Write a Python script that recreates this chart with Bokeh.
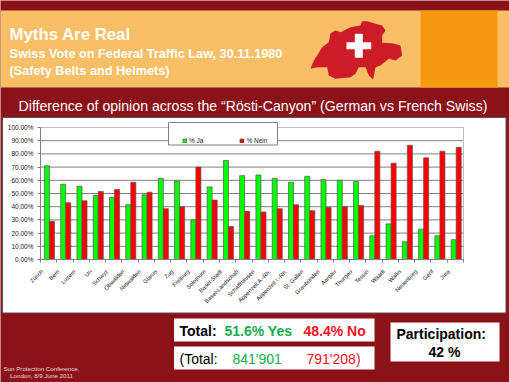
import numpy as np
from bokeh.core.properties import value
from bokeh.embed import file_html
from bokeh.resources import INLINE
from bokeh.plotting import figure
from bokeh.models import FixedTicker, Range1d, Legend, LegendItem

cantons = ["Zürich", "Bern", "Luzern", "Uri", "Schwyz", "Obwalden", "Nidwalden", "Glarus", "Zug",
           "Freiburg", "Solothurn", "Basel-Stadt", "Basel-Landschaft", "Schaffhausen",
           "Appenzell A.-Rh.", "Appenzell I.-Rh.", "St. Gallen", "Graubünden", "Aargau", "Thurgau",
           "Tessin", "Waadt", "Wallis", "Neuenburg", "Genf", "Jura"]
ja = [71, 57, 55.5, 48.5, 47, 41.5, 49, 61.5, 59.5, 30, 55, 75, 63.5, 64, 61.5, 58.5, 63, 60.5, 60,
      59, 18, 27, 13.5, 23, 18, 15]
nein = [29, 43, 44.5, 51.5, 53, 58.5, 51, 38.5, 40, 70, 45, 25, 36.5, 36, 38.5, 41.5, 37, 39.5, 40,
        41, 82, 73, 86.5, 77, 82, 85]
y_ticks = [0, 10, 20, 30, 40, 50, 60, 70, 80, 90, 100]

DARK = "#8B1219"
FONT = "Liberation Sans"
W, H = 509, 382
L, R, T, B = 40, 463, 127, 259   # chart plot edges on the slide
n = len(cantons)
ux = (R - L) / n
uy = (B - T) / 100

p = figure(width=W, height=H, output_backend="svg", toolbar_location=None,
           x_range=Range1d(-L / ux, (W - L) / ux), y_range=Range1d(-(H - B) / uy, B / uy),
           min_border=0, min_border_left=0, min_border_right=0, min_border_top=0, min_border_bottom=0,
           border_fill_color=DARK, background_fill_color=DARK, outline_line_color=None,
           styles={"position": "absolute", "left": "0", "top": "0"})
p.extra_x_ranges["px"] = Range1d(0, W)
p.extra_y_ranges["px"] = Range1d(H, 0)
PX = dict(x_range_name="px", y_range_name="px")


def box(x0, y0, x1, y1, color, line=None, level="image"):
    p.quad(left=[x0], right=[x1], top=[y0], bottom=[y1], fill_color=color, line_color=line,
           line_width=1, level=level, **PX)


def text(px, py, s, size, color="white", bold=False, align="left"):
    p.text(x=[px], y=[py], text=[s], text_font=value(FONT), text_font_size=value(f"{size}px"),
           text_color=color, text_font_style="bold" if bold else "normal", text_align=align,
           text_baseline="middle", **PX)


# header band
box(0, 10, W, 87, "#F8BF66")
box(420, 10, 497, 87, "#F59A10")
# chart panel
box(2, 117, 505.5, 312.5, "white", "#555555")
# totals
box(173.5, 318, 374, 341, "white")
box(173.5, 346, 374, 369, "white")
box(390, 322, 499, 361, "white")

# map of Switzerland
outline = [(30, 175), (40, 150), (50, 135), (65, 110), (85, 95), (90, 68), (105, 60), (120, 65), (150, 50),
           (180, 45), (185, 32), (200, 32), (225, 40), (245, 45), (255, 60), (245, 75), (245, 97), (275, 98),
           (300, 105), (305, 135), (285, 150), (265, 145), (240, 165), (225, 170), (218, 207), (205, 195),
           (195, 170), (175, 170), (165, 190), (150, 200), (105, 205), (85, 195), (80, 170), (50, 170)]
p.patch(x=[300 + a / 3 for a, _ in outline], y=[10 + b / 3 for _, b in outline], fill_color="#CE1B28",
        line_color=None, level="image", **PX)
box(346, 41.7, 370.7, 48.7, "white")
box(354.3, 33.3, 362.3, 57.3, "white")

text(9, 33.5, "Myths Are Real", 16.8, bold=True)
text(9, 53, "Swiss Vote on Federal Traffic Law, 30.11.1980", 12.7, bold=True)
text(9, 70.7, "(Safety Belts and Helmets)", 12.7, bold=True)
text(252.5, 105, "Difference of opinion across the “Rösti-Canyon” (German vs French Swiss)", 14.15, align="center")

text(179, 330, "Total:", 14, "black", True)
text(224, 330, "51.6% Yes", 14, "#12AD50", True)
text(303, 330, "48.4% No", 14, "#F5121E", True)
text(179, 358, "(Total:", 14, "black")
text(232, 358, "841'901", 14, "#12AD50")
text(306, 358, "791'208)", 14, "#F5121E")
text(440.7, 333, "Participation:", 14, "black", True, "center")
text(444, 351.7, "42 %", 14, "black", True, "center")
text(41, 367.7, "Sun Protection Conference,", 6.2, "#EEDDDD", align="center")
text(41, 375.3, "London, 8/9 June 2011", 6.2, "#EEDDDD", align="center")

# gridlines and right edge of the plot
p.segment(x0=0, x1=n, y0=y_ticks[:-1], y1=y_ticks[:-1], line_color="#808080", line_width=1, level="underlay")
p.segment(x0=[0, n], x1=[n, n], y0=[100, 0], y1=[100, 100], line_color="#BDBDBD", line_width=1, level="underlay")

# bars
x = np.arange(n) + 0.5
w = 0.31
r1 = p.vbar(x=x - w / 2 + 0.05, top=ja, width=w, fill_color="#00FF00", line_color="#555555", line_width=0.7)
r2 = p.vbar(x=x + w / 2 + 0.05, top=nein, width=w, fill_color="#FF0000", line_color="#555555", line_width=0.7)

# axes, set on the plot's zero lines
xaxis = p.xaxis[0]
xaxis.fixed_location = 0
xaxis.bounds = (0, n)
label_pos = [float(v) for v in x - 0.4]
xaxis.ticker = FixedTicker(ticks=label_pos, minor_ticks=list(range(n + 1)))
xaxis.major_label_overrides = {v: c for v, c in zip(label_pos, cantons)}
xaxis.major_label_orientation = np.pi / 4
xaxis.major_label_text_font = FONT
xaxis.major_label_text_font_size = "5.8px"
xaxis.major_label_text_color = "#222222"
xaxis.major_label_standoff = 5
xaxis.major_tick_line_color = None
xaxis.minor_tick_in = 0
xaxis.minor_tick_out = 3
xaxis.minor_tick_line_color = "#808080"
xaxis.axis_line_color = "#808080"

yaxis = p.yaxis[0]
yaxis.fixed_location = 0
yaxis.bounds = (0, 100)
yaxis.ticker = FixedTicker(ticks=y_ticks, minor_ticks=[])
yaxis.major_label_overrides = {v: f"{v:.2f}%" for v in y_ticks}
yaxis.major_label_text_font = FONT
yaxis.major_label_text_font_size = "6.5px"
yaxis.major_label_text_color = "#222222"
yaxis.major_label_standoff = 4
yaxis.major_tick_in = 0
yaxis.major_tick_out = 3
yaxis.major_tick_line_color = "#808080"
yaxis.axis_line_color = "#808080"

p.xgrid.visible = False
p.ygrid.visible = False

# legend: its frame is a wider box behind a borderless Legend
box(168, 122, 277, 144.5, "white", "#808080", level="glyph")
legend = Legend(items=[LegendItem(label="% Ja", renderers=[r1]), LegendItem(label="% Nein", renderers=[r2])],
                orientation="horizontal", location=(182, H - 144),
                background_fill_alpha=0, border_line_color=None,
                label_text_font=FONT, label_text_font_size="6.5px", label_text_color="#222222",
                glyph_width=5, glyph_height=5, padding=8, spacing=36, margin=0, label_standoff=2,
                label_height=6, label_width=10)
p.add_layout(legend, "center")

open("out.html", "w").write(file_html(p, INLINE))
